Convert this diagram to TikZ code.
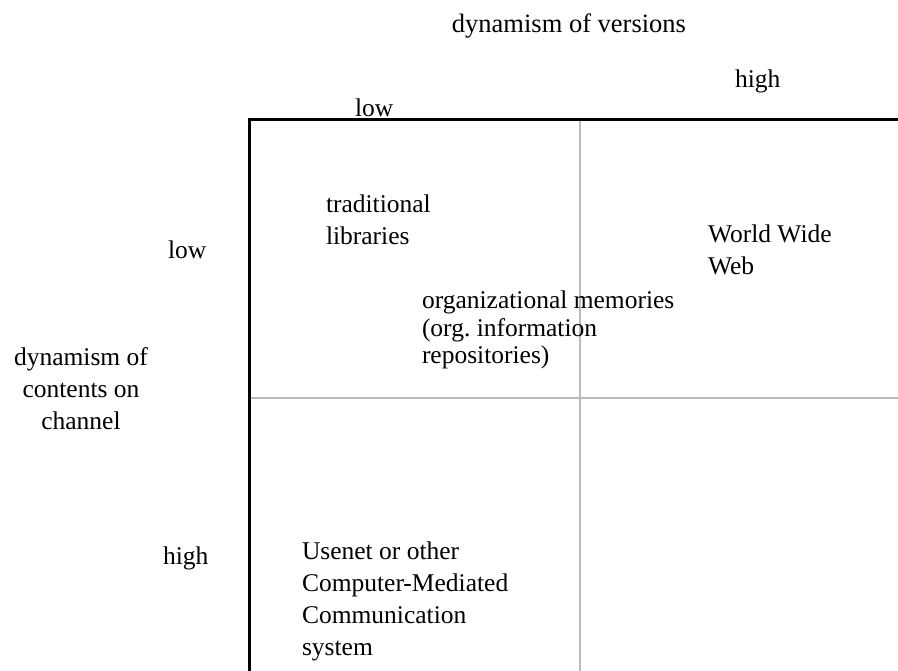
\documentclass[tikz,border=0pt]{standalone}
\usepackage{fontspec}
\setmainfont{Liberation Serif}
\begin{document}
\begin{tikzpicture}[x=1pt,y=-1pt,
  lbl/.style={inner sep=0pt,outer sep=0pt,font=\fontsize{25.5}{32}\selectfont,align=left,anchor=base west},
  lblc/.style={lbl,align=center,anchor=base},
  axisline/.style={line width=3pt,black},
  gridline/.style={line width=2.5pt,color=gridgray}]
\definecolor{gridgray}{HTML}{BBBBBB}
\useasboundingbox (0,0) rectangle (898,671);
% frame coordinates
\coordinate (tl) at (249,120);
\coordinate (tr) at (898,120);
\coordinate (bl) at (249,671);
\coordinate (vt) at (580,120);
\coordinate (vb) at (580,671);
\coordinate (hl) at (249,398);
\coordinate (hr) at (898,398);
\draw[gridline] (vt) -- (vb);
\draw[gridline] (hl) -- (hr);
\draw[axisline] (tr) -- (tl) -- (bl);
% labels (base anchor = baseline of the last line)
\node[lblc,font=\fontsize{26.5}{32}\selectfont] (title) at (569,33) {dynamism of versions};
\node[lbl] (tlow) at (355,117) {low};
\node[lbl] (thigh) at (735,88) {high};
\node[lbl] (llow) at (168,259) {low};
\node[lblc] (ltitle) at (81,429) {dynamism of\\contents on\\channel};
\node[lbl] (lhigh) at (163,564) {high};
\node[lbl] (trad) at (326,245) {traditional\\libraries};
\node[lbl,font=\fontsize{25.5}{27.5}\selectfont] (org) at (422,364) {organizational memories\\(org.\ information\\repositories)};
\node[lbl] (www) at (708,275) {World Wide\\Web};
\node[lbl] (usenet) at (302,655) {Usenet or other\\Computer-Mediated\\Communication\\system};
\end{tikzpicture}
\end{document}
